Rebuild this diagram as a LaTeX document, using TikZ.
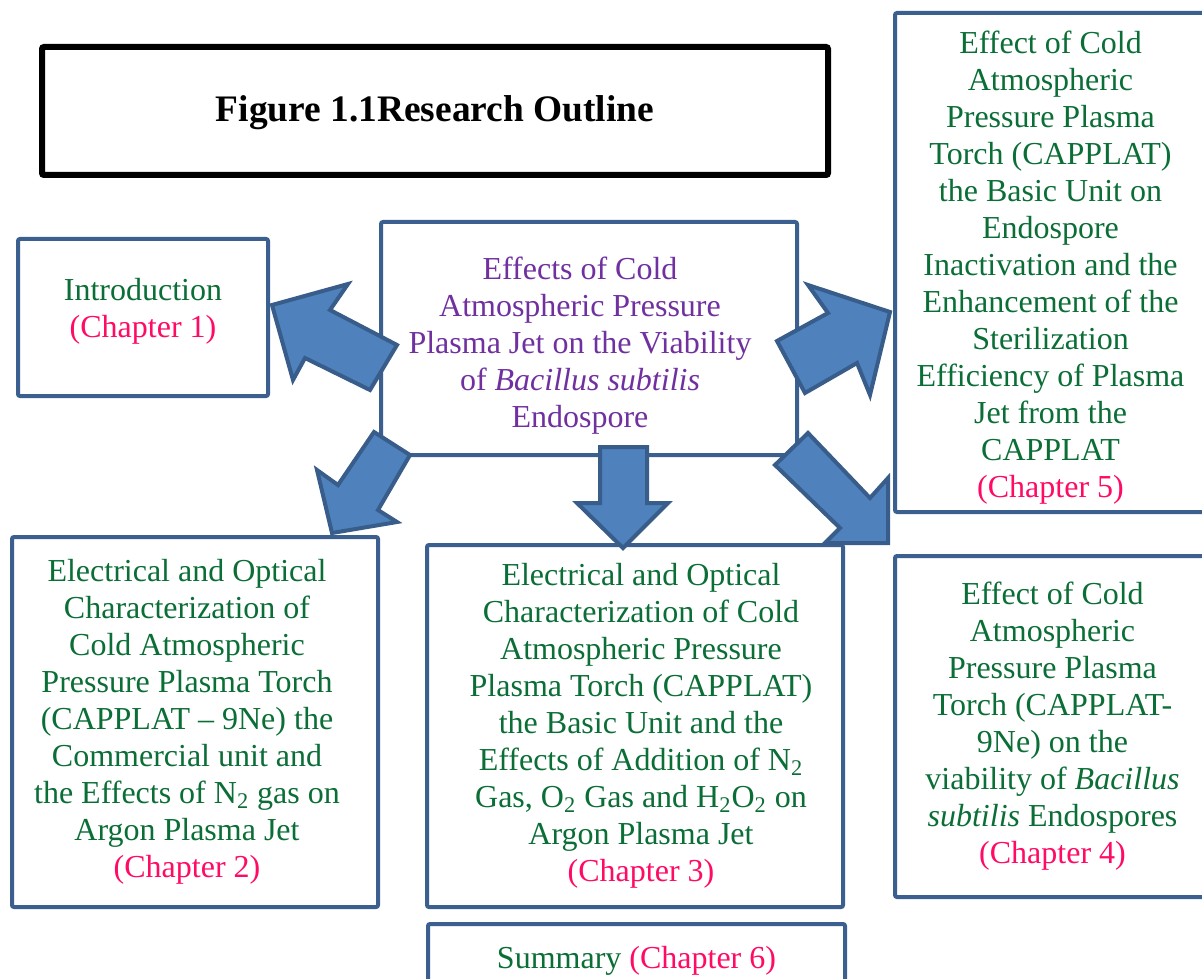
\documentclass[tikz,border=0pt]{standalone}
\usepackage{fontspec}
\setmainfont{Liberation Serif}
\usepackage{tikz}
\usetikzlibrary{positioning}
\usetikzlibrary{calc}
\definecolor{boxblue}{HTML}{3B5F8E}
\definecolor{arrowfill}{HTML}{4F81BD}
\definecolor{arrowline}{HTML}{385D8A}
\definecolor{txtgreen}{HTML}{0A6E36}
\definecolor{chappink}{HTML}{FF0A64}
\definecolor{txtpurple}{HTML}{7030A0}
\newcommand{\chap}[1]{\textcolor{chappink}{#1}}
\newcommand{\sub}[1]{\textsubscript{#1}}
\tikzstyle{outline}=[draw=boxblue,line width=2pt,rounded corners=1pt,fill=white,align=center,inner sep=0pt,font=\fontsize{16}{18.5}\selectfont,text=txtgreen]
\tikzstyle{boxtext}=[align=center,inner sep=0pt,font=\fontsize{16}{18.5}\selectfont,text=txtgreen]
\tikzstyle{titlebox}=[draw=black,line width=3pt,rounded corners=1pt,align=center,inner sep=0pt,font=\fontsize{18.7}{22}\selectfont\bfseries]
\tikzstyle{blockarrow}=[fill=arrowfill,draw=arrowline,line width=2pt,line join=miter]

\begin{document}
\begin{tikzpicture}[x=0.5pt,y=-0.5pt]
		\useasboundingbox (0,0) rectangle (1202,978);
		\clip (0,0) rectangle (1202,978);
		% title
		\node[titlebox,minimum width=393pt,minimum height=64pt] (title) at (435,111) {};
		\node[titlebox,draw=none] (titletext) at ($(title.center)+(0,2)$) {Figure 1.1Research Outline};
		% boxes
		\node[outline,minimum width=125pt,minimum height=78.5pt] (intro) at (143,317.5) {};
		\node[boxtext] (introtext) at ($(intro.center)+(0,-6)$) {Introduction\\ \chap{(Chapter 1)}};
		\node[outline,minimum width=208pt,minimum height=116.5pt] (main) at (589,338.5) {};
		\node[boxtext,text=txtpurple] (maintext) at ($(main.center)+(-9,7)$)
			{Effects of Cold\\ Atmospheric Pressure\\ Plasma Jet on the Viability\\ of \textit{Bacillus subtilis}\\ Endospore};
		\node[outline,minimum width=157.5pt,minimum height=249.5pt] (chfive) at (1052.5,262.5) {};
		\node[boxtext] (chfivetext) at ($(chfive.center)+(-2,5)$)
			{Effect of Cold\\ Atmospheric\\ Pressure Plasma\\ Torch (CAPPLAT)\\ the Basic Unit on\\ Endospore\\ Inactivation and the\\ Enhancement of the\\ Sterilization\\ Efficiency of Plasma\\ Jet from the\\ CAPPLAT\\ \chap{(Chapter 5)}};
		\node[outline,minimum width=183pt,minimum height=185pt] (chtwo) at (195,722) {};
		\node[boxtext] (chtwotext) at ($(chtwo.center)+(-8,0)$)
			{Electrical and Optical\\ Characterization of\\ Cold Atmospheric\\ Pressure Plasma Torch\\ (CAPPLAT -- 9Ne) the\\ Commercial unit and\\ the Effects of N\sub{2} gas on\\ Argon Plasma Jet\\ \chap{(Chapter 2)}};
		\node[outline,minimum width=208pt,minimum height=181pt] (chthree) at (635,726) {};
		\node[boxtext] (chthreetext) at ($(chthree.center)+(6,0)$)
			{Electrical and Optical\\ Characterization of Cold\\ Atmospheric Pressure\\ Plasma Torch (CAPPLAT)\\ the Basic Unit and the\\ Effects of Addition of N\sub{2}\\ Gas, O\sub{2} Gas and H\sub{2}O\sub{2} on\\ Argon Plasma Jet\\ \chap{(Chapter 3)}};
		\node[outline,minimum width=157.5pt,minimum height=170.5pt] (chfour) at (1052.5,726.5) {};
		\node[boxtext] (chfourtext) at ($(chfour.center)+(0,0)$)
			{Effect of Cold\\ Atmospheric\\ Pressure Plasma\\ Torch (CAPPLAT-\\ 9Ne) on the\\ viability of \textit{Bacillus}\\ \textit{subtilis} Endospores\\ \chap{(Chapter 4)}};
		\node[outline,minimum width=208.5pt,minimum height=33pt] (summary) at (636.5,957) {};
		\node[boxtext] (summarytext) at ($(summary.center)+(0,4)$) {Summary \chap{(Chapter 6)}};
		% block arrows
		\draw[blockarrow] (272,305)--(348,284)--(330,310)--(397,345)--(370,390)--(305,358)--(293,380)--cycle;
		\draw[blockarrow] (332,533)--(317,470)--(338,485)--(374,432)--(410,455)--(378,510)--(397,522)--cycle;
		\draw[blockarrow] (623,548)--(577,503)--(600,503)--(600,447)--(647,447)--(647,503)--(668,503)--cycle;
		\draw[blockarrow] (890,312)--(870,395)--(857,363)--(805,393)--(777,341)--(828,313)--(808,285)--cycle;
		\draw[blockarrow] (888,543)--(825,543)--(840,528)--(775,465)--(808,433)--(870,498)--(888,478)--cycle;
	\end{tikzpicture}
\end{document}
